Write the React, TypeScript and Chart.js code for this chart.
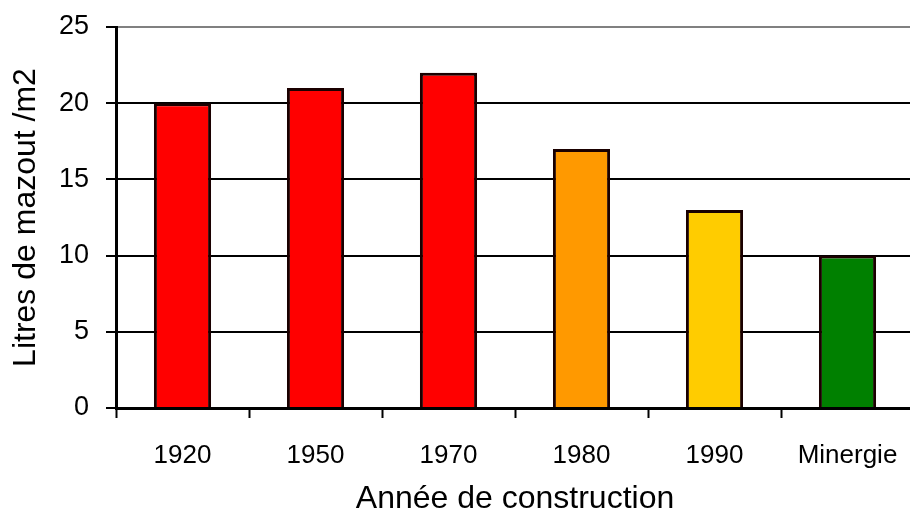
import React, { useEffect, useRef } from "react";
import { Chart, registerables } from "chart.js";

Chart.register(...registerables);

const categories = ["1920", "1950", "1970", "1980", "1990", "Minergie"];
const values = [20, 21, 22, 17, 13, 10];
const barColors = ["#FF0000", "#FF0000", "#FF0000", "#FF9900", "#FFCC00", "#008000"];
const yTitle = "Litres de mazout /m2";
const xTitle = "Année de construction";
const yMin = 0;
const yMax = 25;
const yStep = 5;

const FONT = "'Liberation Sans', Arial, sans-serif";

export default function App() {
  const ref = useRef<HTMLCanvasElement | null>(null);

  useEffect(() => {
    if (!ref.current) return;
    const chart = new Chart(ref.current, {
      type: "bar",
      data: {
        labels: categories,
        datasets: [
          {
            data: values,
            backgroundColor: barColors,
            borderColor: "#1a0000",
            borderWidth: 3,
            barPercentage: 0.43,
            categoryPercentage: 1,
          },
        ],
      },
      options: {
        responsive: false,
        animation: false,
        devicePixelRatio: 1,
        layout: { padding: { top: 27, left: 0, right: 0, bottom: 0 } },
        plugins: {
          legend: { display: false },
          tooltip: { enabled: false },
        },
        scales: {
          x: {
            afterFit: (scale: any) => {
              scale.height = 110;
              scale.paddingLeft = 0;
              scale.paddingRight = 0;
            },
            grid: {
              display: true,
              offset: true,
              drawOnChartArea: false,
              drawTicks: true,
              tickLength: 10,
              tickColor: "#000",
              tickWidth: 2,
              color: "#000",
            },
            border: { display: true, color: "#000", width: 3 },
            ticks: {
              color: "#000",
              font: { family: FONT, size: 26 },
              padding: 22,
              maxRotation: 0,
              autoSkip: false,
            },
            title: {
              display: true,
              text: xTitle,
              color: "#000",
              font: { family: FONT, size: 32 },
              padding: { top: 0, bottom: 0 },
            },
          },
          y: {
            min: yMin,
            max: yMax,
            afterFit: (scale: any) => {
              scale.width = 116;
              scale.paddingTop = 0;
              scale.paddingBottom = 0;
            },
            grid: {
              color: (ctx: any) => (ctx.tick && ctx.tick.value === yMax ? "#808080" : "#000"),
              lineWidth: 2,
              drawTicks: true,
              tickLength: 10,
              tickColor: "#000",
              tickWidth: 2,
            },
            border: { display: true, color: "#000", width: 3 },
            ticks: {
              stepSize: yStep,
              color: "#000",
              font: { family: FONT, size: 27 },
              padding: 17,
            },
            title: {
              display: true,
              text: yTitle,
              color: "#000",
              font: { family: FONT, size: 32 },
              padding: { top: 7, bottom: 0 },
            },
          },
        },
      },
    });
    return () => chart.destroy();
  }, []);

  return (
    <div
      style={{
        position: "absolute",
        left: 0,
        top: 0,
        width: 910,
        height: 518,
        overflow: "hidden",
        background: "#fff",
      }}
    >
      <canvas ref={ref} width={914} height={518} style={{ display: "block" }} />
    </div>
  );
}
